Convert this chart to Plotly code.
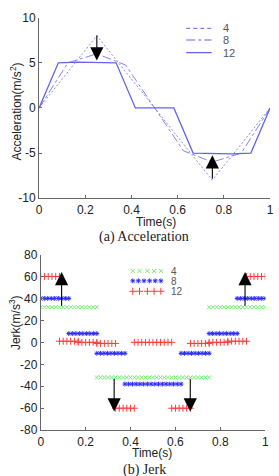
import numpy as np
import plotly.graph_objects as go

# ---------------- data ----------------
# Acceleration breakpoints (time, value) for n = 4, 8, 12
acc_t4 = [0, 0.25, 0.75, 1.0]
acc_a4 = [0, 8, -8, 0]
acc_t8 = [0, 0.125, 0.25, 0.375, 0.625, 0.75, 0.875, 1.0]
acc_a8 = [0, 5, 6, 4.75, -4.75, -6, -5, 0]
acc_t12 = [0, 1/12, 2/12, 3/12, 4/12, 5/12, 7/12, 8/12, 9/12, 10/12, 11/12, 1.0]
acc_a12 = [0, 5, 5.08, 5.08, 5.0, 0, 0, -5.0, -5.08, -5.08, -5, 0]

# Jerk piecewise-constant segments: breakpoints and values
jerk_b4 = [0, 0.25, 0.75, 1.0]
jerk_v4 = [32, -32, 32]
jerk_b8 = [0, 0.125, 0.25, 0.375, 0.625, 0.75, 0.875, 1.0]
jerk_v8 = [40, 8, -10, -38, -10, 8, 40]
jerk_b12 = [0, 1/12, 2/12, 3/12, 4/12, 5/12, 7/12, 8/12, 9/12, 10/12, 11/12, 1.0]
jerk_v12 = [60, 1, 0, -1, -60, 0, -60, -1, 0, 1, 60]

sample_step = 1/60
legend_labels = ["4", "8", "12"]

acc_color = "rgb(100,100,230)"
green = "rgb(120,235,120)"
blue = "rgb(40,40,255)"
red = "rgb(255,60,60)"

def sampled(breaks, vals):
    xs, ys = [], []
    for i, v in enumerate(vals):
        a, b = breaks[i], breaks[i + 1]
        n = int(round((b - a) / sample_step)) + 1
        pts = np.linspace(a, b, n)
        xs += list(pts) + [None]
        ys += [v] * n + [None]
    return xs, ys

fig = go.Figure()

# ---------- Acceleration ----------
fig.add_trace(go.Scatter(x=acc_t4, y=acc_a4, mode="lines", xaxis="x", yaxis="y",
                         line=dict(color="rgba(110,110,235,0.8)", width=1, dash="2px,2px"), showlegend=False))
fig.add_trace(go.Scatter(x=acc_t8, y=acc_a8, mode="lines", xaxis="x", yaxis="y",
                         line=dict(color="rgba(110,110,235,0.85)", width=1, dash="dashdot"), showlegend=False))
fig.add_trace(go.Scatter(x=acc_t12, y=acc_a12, mode="lines", xaxis="x", yaxis="y",
                         line=dict(color=acc_color, width=1.3), showlegend=False))

# ---------- Jerk ----------
styles = [(green, "x-thin-open", 4), (blue, "asterisk-open", 4), (red, "cross-thin-open", 5)]
for (b, v), (col, sym, sz) in zip([(jerk_b4, jerk_v4), (jerk_b8, jerk_v8), (jerk_b12, jerk_v12)], styles):
    xs, ys = sampled(b, v)
    fig.add_trace(go.Scatter(x=xs, y=ys, mode="markers", xaxis="x2", yaxis="y2",
                             marker=dict(symbol=sym, size=sz, color=col, line=dict(color=col, width=1)),
                             showlegend=False))

# jerk legend markers (in bottom axis coords)
leg_x = [[0.41, 0.44, 0.475, 0.505, 0.535],
         [0.41, 0.435, 0.46, 0.485, 0.51, 0.535],
         [0.41, 0.44, 0.475, 0.505, 0.535]]
leg_y = [65, 56, 46.5]
for xs, yv, (col, sym, sz) in zip(leg_x, leg_y, styles):
    fig.add_trace(go.Scatter(x=xs, y=[yv] * len(xs), mode="markers", xaxis="x2", yaxis="y2",
                             marker=dict(symbol=sym, size=sz, color=col, line=dict(color=col, width=1)),
                             showlegend=False))

W, H = 279, 476
def px(xp):
    return xp / W
def py(yp):
    return 1 - yp / H

tickfont = dict(family="Liberation Sans, Arial", size=12, color="#222")
axcommon = dict(showgrid=False, zeroline=False, showline=True, linecolor="#666", linewidth=1,
                ticks="inside", ticklen=3, tickcolor="#666", tickfont=tickfont, mirror=False)

fig.update_layout(
    width=W, height=H, margin=dict(l=0, r=0, t=0, b=0),
    paper_bgcolor="white", plot_bgcolor="white", showlegend=False,
    xaxis=dict(domain=[px(37), px(274)], range=[0, 1], anchor="y",
               tickvals=[0, 0.2, 0.4, 0.6, 0.8, 1], ticktext=["0", "0.2", "0.4", "0.6", "0.8", "1"], **axcommon),
    yaxis=dict(domain=[py(197), py(11)], range=[-10, 10], anchor="x",
               tickvals=[-10, -5, 0, 5, 10], ticktext=["-10", "-5", "0", "5", "10"], **axcommon),
    xaxis2=dict(domain=[px(38.7), px(269)], range=[0, 1], anchor="y2",
                tickvals=[0, 0.2, 0.4, 0.6, 0.8, 1], ticktext=["0", "0.2", "0.4", "0.6", "0.8", "1"], **axcommon),
    yaxis2=dict(domain=[py(436), py(255)], range=[-80, 80], anchor="x2",
                tickvals=[-80, -60, -40, -20, 0, 20, 40, 60, 80],
                ticktext=["-80", "-60", "-40", "-20", "0", "20", "40", "60", "80"], **axcommon),
)

shapes = []
# acceleration legend line samples
for yy, dash, w in [(22, "4px,3px", 1), (34, "dashdot", 1), (47, "solid", 1.3)]:
    shapes.append(dict(type="line", xref="paper", yref="paper", x0=px(188), x1=px(214), y0=py(yy), y1=py(yy),
                       line=dict(color=acc_color, width=w, dash=dash)))
fig.update_layout(shapes=shapes)

ann = []
labfont = dict(family="Liberation Sans, Arial", size=11, color="#555")
for yy, t in zip([22, 34, 47], legend_labels):
    ann.append(dict(x=px(224), y=py(yy), xref="paper", yref="paper", text=t, showarrow=False,
                    xanchor="left", yanchor="middle", font=labfont))
labfont2 = dict(family="Liberation Sans, Arial", size=10, color="#555")
for yy, t in zip([272, 282.5, 293], legend_labels):
    ann.append(dict(x=px(170), y=py(yy), xref="paper", yref="paper", text=t, showarrow=False,
                    xanchor="left", yanchor="middle", font=labfont2))

titlefont = dict(family="Liberation Sans, Arial", size=12, color="#222")
ann.append(dict(x=px(13), y=py(108), xref="paper", yref="paper", text="Acceleration(m/s<sup>2</sup>)",
                showarrow=False, textangle=-90, font=titlefont, xanchor="center", yanchor="middle"))
ann.append(dict(x=px(157), y=py(221), xref="paper", yref="paper", text="Time(s)",
                showarrow=False, font=titlefont, xanchor="center", yanchor="middle"))
ann.append(dict(x=px(13), y=py(325), xref="paper", yref="paper", text="Jerk(m/s<sup>3</sup>)",
                showarrow=False, textangle=-90, font=titlefont, xanchor="center", yanchor="middle"))
ann.append(dict(x=px(153), y=py(459), xref="paper", yref="paper", text="Time(s)",
                showarrow=False, font=titlefont, xanchor="center", yanchor="middle"))
capfont = dict(family="Liberation Serif, Times New Roman", size=14, color="#222")
ann.append(dict(x=px(145), y=py(237), xref="paper", yref="paper", text="(a) Acceleration",
                showarrow=False, font=capfont, xanchor="center", yanchor="middle"))
ann.append(dict(x=px(145), y=py(467), xref="paper", yref="paper", text="(b) Jerk",
                showarrow=False, font=capfont, xanchor="center", yanchor="top"))

# arrows
def arrow(xr, yr, x, y, ax, ay):
    return dict(xref=xr, yref=yr, axref=xr, ayref=yr, x=x, y=y, ax=ax, ay=ay, text="",
                showarrow=True, arrowhead=2, arrowsize=2.4, arrowwidth=1.1, arrowcolor="black")
ann.append(arrow("x", "y", 0.25, 5.25, 0.25, 8.2))
ann.append(arrow("x", "y", 0.75, -5.25, 0.75, -8.0))
ann.append(arrow("x2", "y2", 0.093, 64, 0.093, 32))
ann.append(arrow("x2", "y2", 0.91, 64, 0.91, 32))
ann.append(arrow("x2", "y2", 0.327, -63, 0.327, -32))
ann.append(arrow("x2", "y2", 0.666, -63, 0.666, -32))
fig.update_layout(annotations=ann)

fig.write_html("out.html")
